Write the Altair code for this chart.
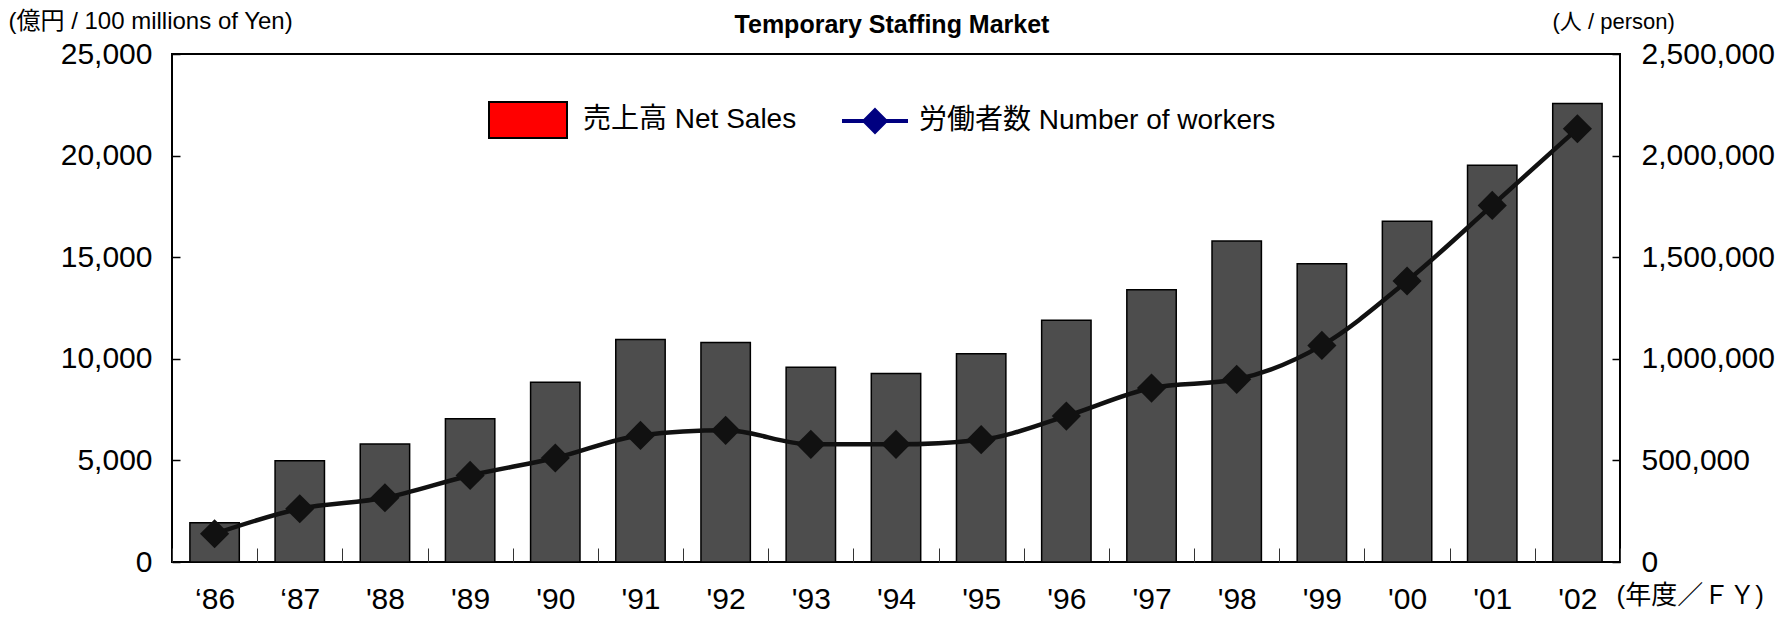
import altair as alt
import pandas as pd

# ---- data ----
years = ["‘86", "‘87", "'88", "'89", "'90", "'91", "'92", "'93", "'94",
         "'95", "'96", "'97", "'98", "'99", "'00", "'01", "'02"]
net_sales = [1930, 4980, 5810, 7050, 8850, 10950, 10800, 9580, 9280,
             10250, 11900, 13400, 15800, 14680, 16770, 19530, 22570]
workers = [139000, 262000, 316000, 426000, 512000, 623000, 648000, 579000, 579000,
           602000, 718000, 856000, 899000, 1066000, 1383000, 1755000, 2132000]
left_ticks = [0, 5000, 10000, 15000, 20000, 25000]
right_ticks = [0, 500000, 1000000, 1500000, 2000000, 2500000]
sales_name = "売上高 Net Sales"
workers_name = "労働者数 Number of workers"
chart_title = ["Temporary Staffing Market"]

df = pd.DataFrame({"year": years, "sales": net_sales, "workers": workers,
                   "s1": sales_name, "s2": workers_name})

W, H = 1448, 508
FONT = "Liberation Sans, Arial, Noto Sans CJK JP, sans-serif"
NARROW = "Liberation Sans Narrow, Arial Narrow, Liberation Sans, Noto Sans CJK JP, sans-serif"

x = alt.X(
    "year:N", sort=years,
    scale=alt.Scale(paddingInner=0, paddingOuter=0),
    axis=alt.Axis(
        title="(年度／ＦＹ)", titleX=1444, titleY=47, titleAlign="left",
        titleBaseline="middle", titleAngle=0, titleFont=NARROW, titleFontSize=26,
        titleFontWeight="normal", titleColor="black",
        labelAngle=0, labelFont=NARROW, labelFontSize=30, labelColor="black",
        labelPadding=22, tickBand="extent", tickSize=14, tickColor="#333",
        tickWidth=1, offset=-14, domain=False, grid=False),
)

yL = alt.Y(
    "sales:Q",
    scale=alt.Scale(domain=[0, 25000], nice=False),
    axis=alt.Axis(
        values=left_ticks, format=",.0f", offset=-8, tickSize=8, domain=False,
        grid=False, labelFont=FONT, labelFontSize=30, labelPadding=20,
        labelColor="black", tickColor="black", tickWidth=1.5,
        title="(億円 / 100 millions of Yen)", titleAngle=0, titleAlign="left",
        titleBaseline="middle", titleX=-172, titleY=-33, titleFont=FONT,
        titleFontSize=24, titleFontWeight="normal", titleColor="black"),
)

yR = alt.Y(
    "workers:Q",
    scale=alt.Scale(domain=[0, 2500000], nice=False),
    axis=alt.Axis(
        orient="right", values=right_ticks, format=",.0f", offset=-8, tickSize=8,
        domain=False, grid=False, labelFont=FONT, labelFontSize=30,
        labelPadding=21, labelColor="black", tickColor="black", tickWidth=1.5,
        title="(人 / person)", titleAngle=0, titleAlign="left",
        titleBaseline="middle", titleX=-60, titleY=-33, titleFont=FONT,
        titleFontSize=22, titleFontWeight="normal", titleColor="black"),
)

leg_sales = alt.Legend(
    title=None, orient="none", legendX=316, legendY=26, padding=0,
    symbolType="M-1,-0.46H1V0.46H-1Z", symbolSize=6084,
    symbolStrokeColor="black", symbolStrokeWidth=2,
    labelFont=FONT, labelFontSize=28, labelColor="black", labelOffset=15,
    labelLimit=0)

leg_workers = alt.Legend(
    title=None, orient="none", legendX=668, legendY=32, padding=0,
    symbolType="M-1,0H1M0,-0.32L0.32,0L0,0.32L-0.32,0Z", symbolSize=4356,
    symbolFillColor="#000080", symbolStrokeWidth=4,
    labelFont=FONT, labelFontSize=28, labelColor="black", labelOffset=9,
    labelLimit=0)

base = alt.Chart(df)

bars_legend = base.transform_filter("false").mark_bar().encode(
    x=x, y=yL,
    color=alt.Color("s1:N", scale=alt.Scale(domain=[sales_name], range=["#ff0000"]),
                    legend=leg_sales))
bars = base.mark_bar(fill="#4d4d4d", stroke="black", strokeWidth=1.5,
                     width=alt.RelativeBandSize(0.58)).encode(x=x, y=yL)

line_legend = base.transform_filter("false").mark_line().encode(
    x=x, y=yR,
    color=alt.Color("s2:N", scale=alt.Scale(domain=[workers_name], range=["#000080"]),
                    legend=leg_workers))
line = base.mark_line(color="#111111", strokeWidth=4.5,
                      interpolate="monotone").encode(x=x, y=yR)
pts = base.mark_point(shape="diamond", filled=True, size=850, color="#111111",
                      opacity=1).encode(x=x, y=yR)

title_text = alt.Chart(pd.DataFrame({"t": chart_title})).mark_text(
    font=FONT, fontSize=25, fontWeight="bold", color="black",
    align="center", baseline="alphabetic").encode(
    text="t:N", x=alt.value(720), y=alt.value(-21))

chart = alt.layer(
    alt.layer(bars_legend, bars),
    alt.layer(line_legend, line, pts),
    title_text,
).resolve_scale(y="independent", color="independent").properties(
    width=W, height=H,
    background="white",
    autosize=alt.AutoSizeParams(type="none"),
    padding={"left": 164, "top": 46, "right": 158, "bottom": 51},
).configure_view(stroke="black", strokeWidth=2)

chart.save("out.html", embed_options={"renderer": "svg", "actions": False})
